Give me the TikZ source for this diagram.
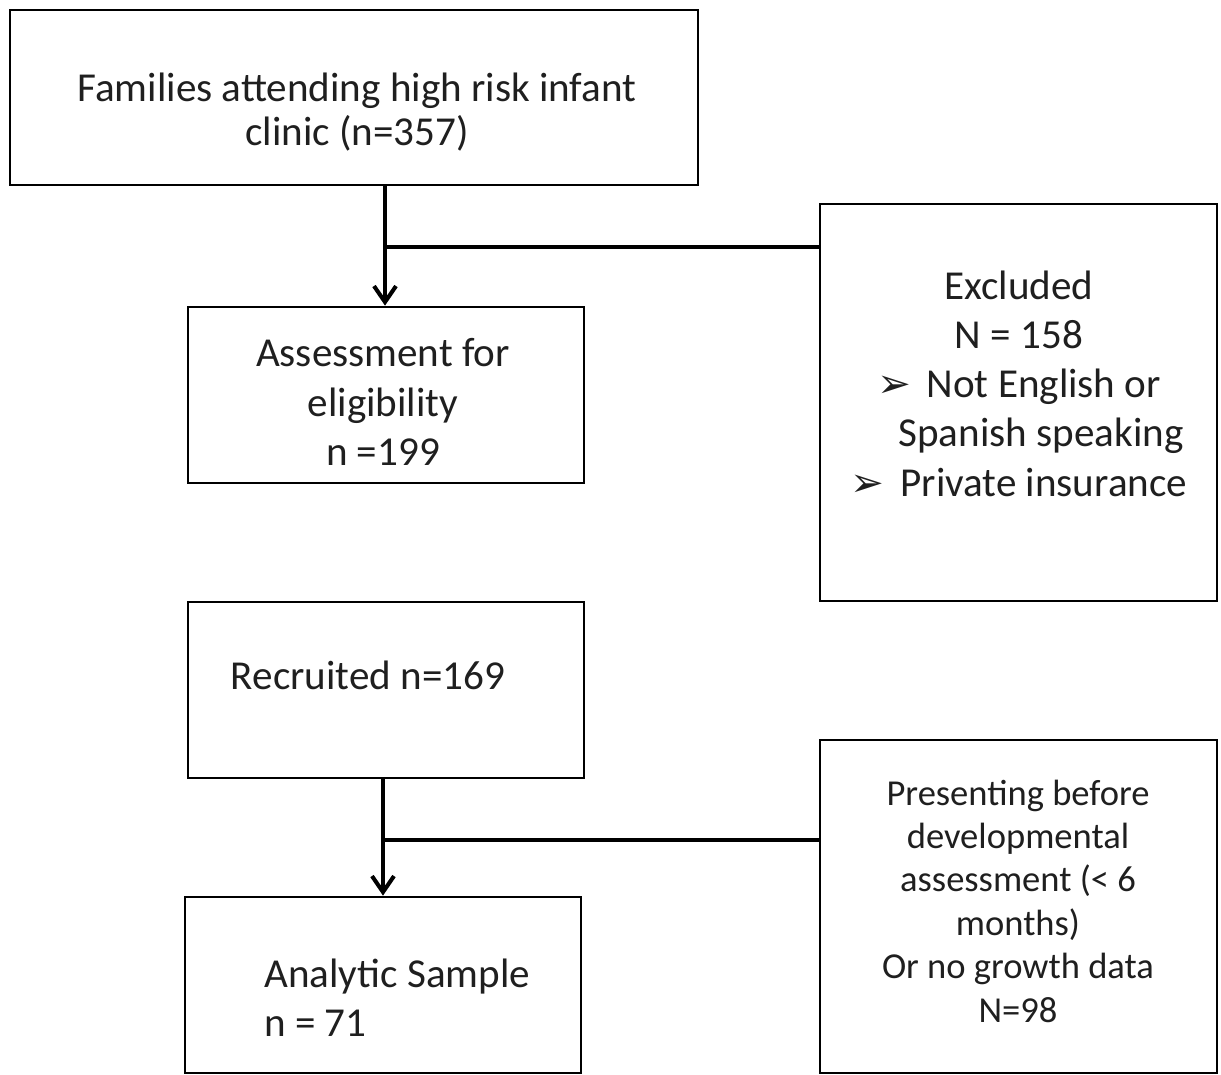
\documentclass[tikz,border=0pt]{standalone}
\usepackage{fontspec}
\setmainfont{Carlito}
\newfontfamily\symfont{DejaVu Sans}
\usetikzlibrary{arrows.meta}
\newcommand{\bul}{{\symfont\fontsize{23}{23}\selectfont ➢}\hspace{9pt}}
\begin{document}
\begin{tikzpicture}[x=0.02cm,y=-0.02cm,
  box/.style={draw, line width=1.6pt, inner sep=0pt},
  txt/.style={align=center, inner sep=0pt, text=black!88},
  bigf/.style={font=\fontsize{23.4}{28}\selectfont},
  smallf/.style={font=\fontsize{20.8}{24.7}\selectfont},
  conn/.style={line width=1.8pt},
  arr/.style={conn, -{Straight Barb[length=3.2mm,width=4.4mm,line width=2.3pt]}},
]
\useasboundingbox (0,0) rectangle (1221,1075);

% boxes
\node[box, minimum width=13.76cm, minimum height=3.5cm] (top) at (354,97.5) {};
\node[box, minimum width=7.94cm, minimum height=7.94cm] (excl) at (1018.5,402.5) {};
\node[box, minimum width=7.92cm, minimum height=3.52cm] (assess) at (386,395) {};
\node[box, minimum width=7.92cm, minimum height=3.52cm] (recr) at (386,690) {};
\node[box, minimum width=7.92cm, minimum height=3.52cm] (anal) at (383,985) {};
\node[box, minimum width=7.94cm, minimum height=6.66cm] (pres) at (1018.5,906.5) {};

% texts
\node[txt, font=\fontsize{23.4}{25.5}\selectfont] (ttop) at (357,112) {Families attending high risk infant\\clinic (n=357)};
\node[txt, bigf] (texcl) at (1019,383.5) {Excluded\\N = 158\\\bul Not English or\\\hspace*{25pt}Spanish speaking\\\bul Private insurance};
\node[txt, bigf] (tassess) at (383,402) {Assessment for\\eligibility\\n =199};
\node[txt, bigf] (trecr) at (368,675) {Recruited n=169};
\node[txt, bigf, align=left, anchor=west] (tanal) at (264,998) {Analytic Sample\\n = 71};
\node[txt, smallf] (tpres) at (1018,901) {Presenting before\\developmental\\assessment (< 6\\months)\\Or no growth data\\N=98};

% connectors
\coordinate (j1) at (385,247);
\coordinate (j2) at (383,840);
\draw[arr] (top.south -| j1) -- (j1 |- assess.north);
\draw[conn] (j1) -- (j1 -| excl.west);
\draw[arr] (recr.south -| j2) -- (j2 |- anal.north);
\draw[conn] (j2) -- (j2 -| pres.west);
\end{tikzpicture}
\end{document}
